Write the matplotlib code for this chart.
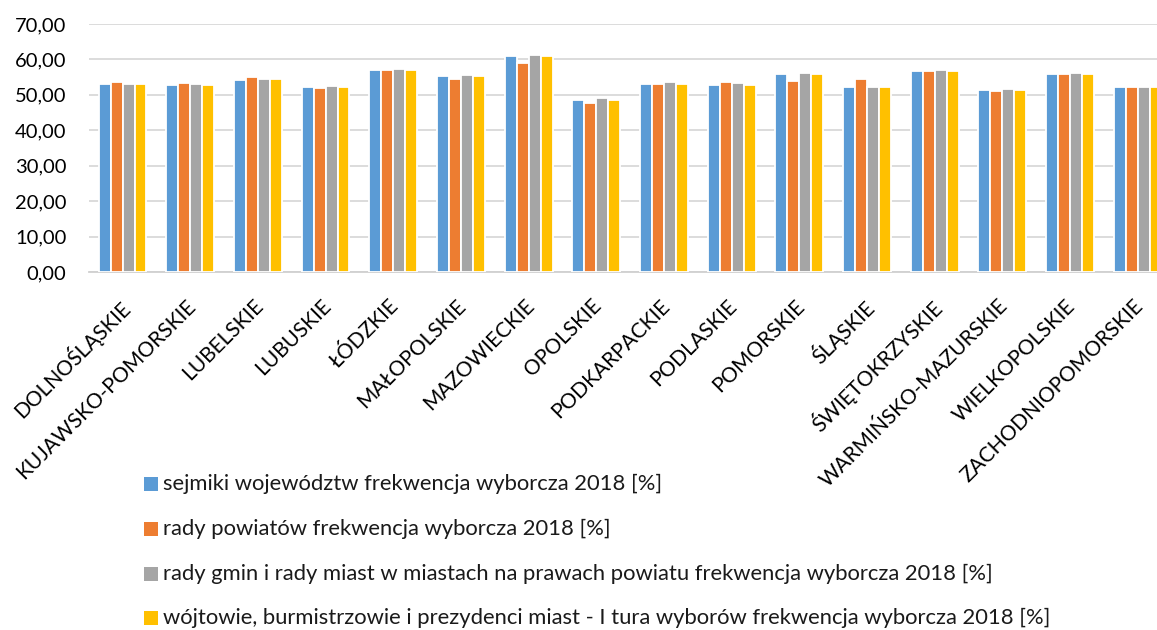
import matplotlib
matplotlib.use("Agg")
import matplotlib.pyplot as plt
import numpy as np
from matplotlib.patches import Rectangle

plt.rcParams['font.family'] = ['Lato', 'DejaVu Sans']

regions = ["DOLNOŚLĄSKIE", "KUJAWSKO-POMORSKIE", "LUBELSKIE", "LUBUSKIE", "ŁÓDZKIE",
           "MAŁOPOLSKIE", "MAZOWIECKIE", "OPOLSKIE", "PODKARPACKIE", "PODLASKIE",
           "POMORSKIE", "ŚLĄSKIE", "ŚWIĘTOKRZYSKIE", "WARMIŃSKO-MAZURSKIE",
           "WIELKOPOLSKIE", "ZACHODNIOPOMORSKIE"]

sejmiki = [53.0, 52.9, 54.3, 52.3, 56.9, 55.2, 60.9, 48.5, 53.1, 52.9, 55.8, 52.2, 56.6, 51.4, 55.9, 52.2]
powiaty = [53.5, 53.3, 54.9, 51.8, 57.1, 54.5, 58.9, 47.7, 53.2, 53.7, 53.9, 54.5, 56.7, 51.2, 55.9, 52.3]
gminy = [53.2, 53.2, 54.6, 52.6, 57.2, 55.6, 61.2, 49.2, 53.5, 53.3, 56.1, 52.2, 56.9, 51.6, 56.3, 52.3]
wojtowie = [53.1, 52.9, 54.4, 52.3, 57.1, 55.3, 60.9, 48.5, 53.2, 52.9, 55.8, 52.2, 56.7, 51.5, 55.9, 52.1]

series_labels = [
    "sejmiki województw frekwencja wyborcza 2018 [%]",
    "rady powiatów frekwencja wyborcza 2018 [%]",
    "rady gmin i rady miast w miastach na prawach powiatu frekwencja wyborcza 2018 [%]",
    "wójtowie, burmistrzowie i prezydenci miast - I tura wyborów frekwencja wyborcza 2018 [%]",
]
colors = ["#5b9bd5", "#ed7d31", "#a5a5a5", "#ffc000"]
yticks = [0, 10, 20, 30, 40, 50, 60, 70]

W, H = 1157, 630
fig = plt.figure(figsize=(W / 100, H / 100), dpi=100)
# plot area runs a little past the right edge of the figure
ax = fig.add_axes([88.7 / W, 1 - 272 / H, 1082.7 / W, 248 / H])

x = np.arange(len(regions))
slot = 0.177
for i, (vals, col) in enumerate(zip([sejmiki, powiaty, gminy, wojtowie], colors)):
    ax.bar(x + (i - 1.5) * slot, vals, width=slot, color=col,
           edgecolor="white", linewidth=1.3, zorder=3)

ax.set_xlim(-0.5, len(regions) - 0.5)
ax.set_ylim(0, 70)
ax.set_yticks(yticks)
ax.set_yticklabels([f"{v:.2f}".replace(".", ",") for v in yticks], fontsize=14.5)
ax.yaxis.grid(True, color="#d9d9d9", linewidth=1.3, zorder=0)
ax.set_axisbelow(True)
for s in ["top", "right", "left"]:
    ax.spines[s].set_visible(False)
ax.spines["bottom"].set_color("#d0d0d0")
ax.spines["bottom"].set_linewidth(1.3)
ax.tick_params(axis="y", length=0, pad=16)
ax.tick_params(axis="x", length=0, pad=17)
ax.set_xticks(x - 0.07)
ax.set_xticklabels(regions, rotation=45, ha="right", va="top",
                   rotation_mode="anchor", fontsize=15)

# legend: one row per series, square swatch followed by its label
row_y = [484, 529, 574, 618]
sq = 13.5
for col, lab, yy in zip(colors, series_labels, row_y):
    fig.patches.append(Rectangle((144 / W, 1 - (yy + sq / 2) / H), sq / W, sq / H,
                                 transform=fig.transFigure, facecolor=col,
                                 edgecolor="none"))
    fig.text(163 / W, 1 - yy / H, lab, fontsize=15.8, va="center", ha="left",
             color="#1a1a1a")

fig.savefig("out.png", dpi=100)
